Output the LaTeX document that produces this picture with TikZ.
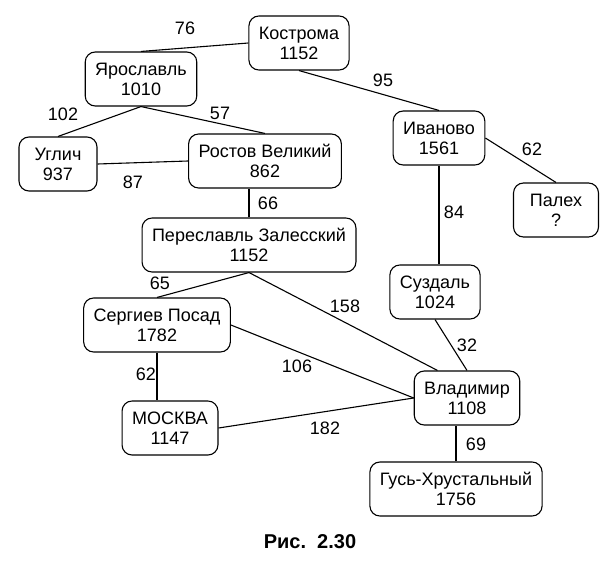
\documentclass[tikz,border=0pt]{standalone}
\usepackage{fontspec}
\setmainfont{Liberation Sans}
\begin{document}
\begin{tikzpicture}[x=1pt, y=1pt, line width=1.1pt,%
% common options for the towns:
town/.style = {draw, rounded corners=10pt, align=center, minimum height=54pt,
            minimum width=78pt, inner xsep=10pt, font=\fontsize{18}{20}\selectfont},
% common options for the distances:
dist/.style = {inner sep=0, font=\fontsize{18}{20}\selectfont}]
\useasboundingbox (0,0) rectangle (607,-575);
\node[town] (Kos) at (299,-43) {Кострома\\1152};
\node[town] (Jar) at (141,-79) {Ярославль\\1010};
\node[town] (Ugl) at (58,-164) {Углич\\937};
\node[town] (Ros) at (265,-161) {Ростов Великий\\862};
\node[town] (Iva) at (439,-138) {Иваново\\1561};
\node[town,minimum width=85pt] (Pal) at (556,-210) {Палех\\?};
\node[town] (Per) at (249,-245) {Переславль Залесский\\1152};
\node[town] (Ser) at (157,-325) {Сергиев Посад\\1782};
\node[town] (Mos) at (170,-428) {МОСКВА\\1147};
\node[town] (Suz) at (435,-292) {Суздаль\\1024};
\node[town] (Vla) at (467,-398) {Владимир\\1108};
\node[town] (Gus) at (456,-489) {Гусь-Хрустальный\\1756};
\node[dist] (d1) at (185,-28) {76};
\node[dist] (d2) at (383,-80) {95};
\node[dist] (d3) at (63,-114) {102};
\node[dist] (d4) at (220,-113) {57};
\node[dist] (d5) at (133,-182) {87};
\node[dist] (d6) at (268,-203) {66};
\node[dist] (d7) at (160,-283) {65};
\node[dist] (d8) at (345,-306) {158};
\node[dist] (d9) at (297,-366) {106};
\node[dist] (d10) at (146,-374) {62};
\node[dist] (d11) at (325,-428) {182};
\node[dist] (d12) at (454,-212) {84};
\node[dist] (d13) at (532,-149) {62};
\node[dist] (d14) at (467,-345) {32};
\node[dist] (d15) at (476,-444) {69};
\node[font=\bfseries\fontsize{20}{22}\selectfont] (cap) at (310,-542) {Рис.\ \ 2.30};
\draw (Kos.west) to (Jar.north);
\draw (Kos.south) to (Iva.north);
\draw (Jar.south) to (Ugl.north);
\draw (Jar.south) to (Ros.north);
\draw (Ugl.east) to (Ros.west);
\draw (Per.north) to (Per.north |- Ros.south);
\draw (Per.south) to (Ser.north);
\draw (Per.south) to (Vla.137);
\draw (Ser.east) to (Vla.west);
\draw (Ser.south) to (Ser.south |- Mos.north);
\draw (Mos.east) to (Vla.west);
\draw (Iva.south) to (Iva.south |- Suz.north);
\draw (Iva.east) to (Pal.north);
\draw (Suz.south) to (Vla.north);
\draw (Gus.north) to (Gus.north |- Vla.south);
\end{tikzpicture}
\end{document}
